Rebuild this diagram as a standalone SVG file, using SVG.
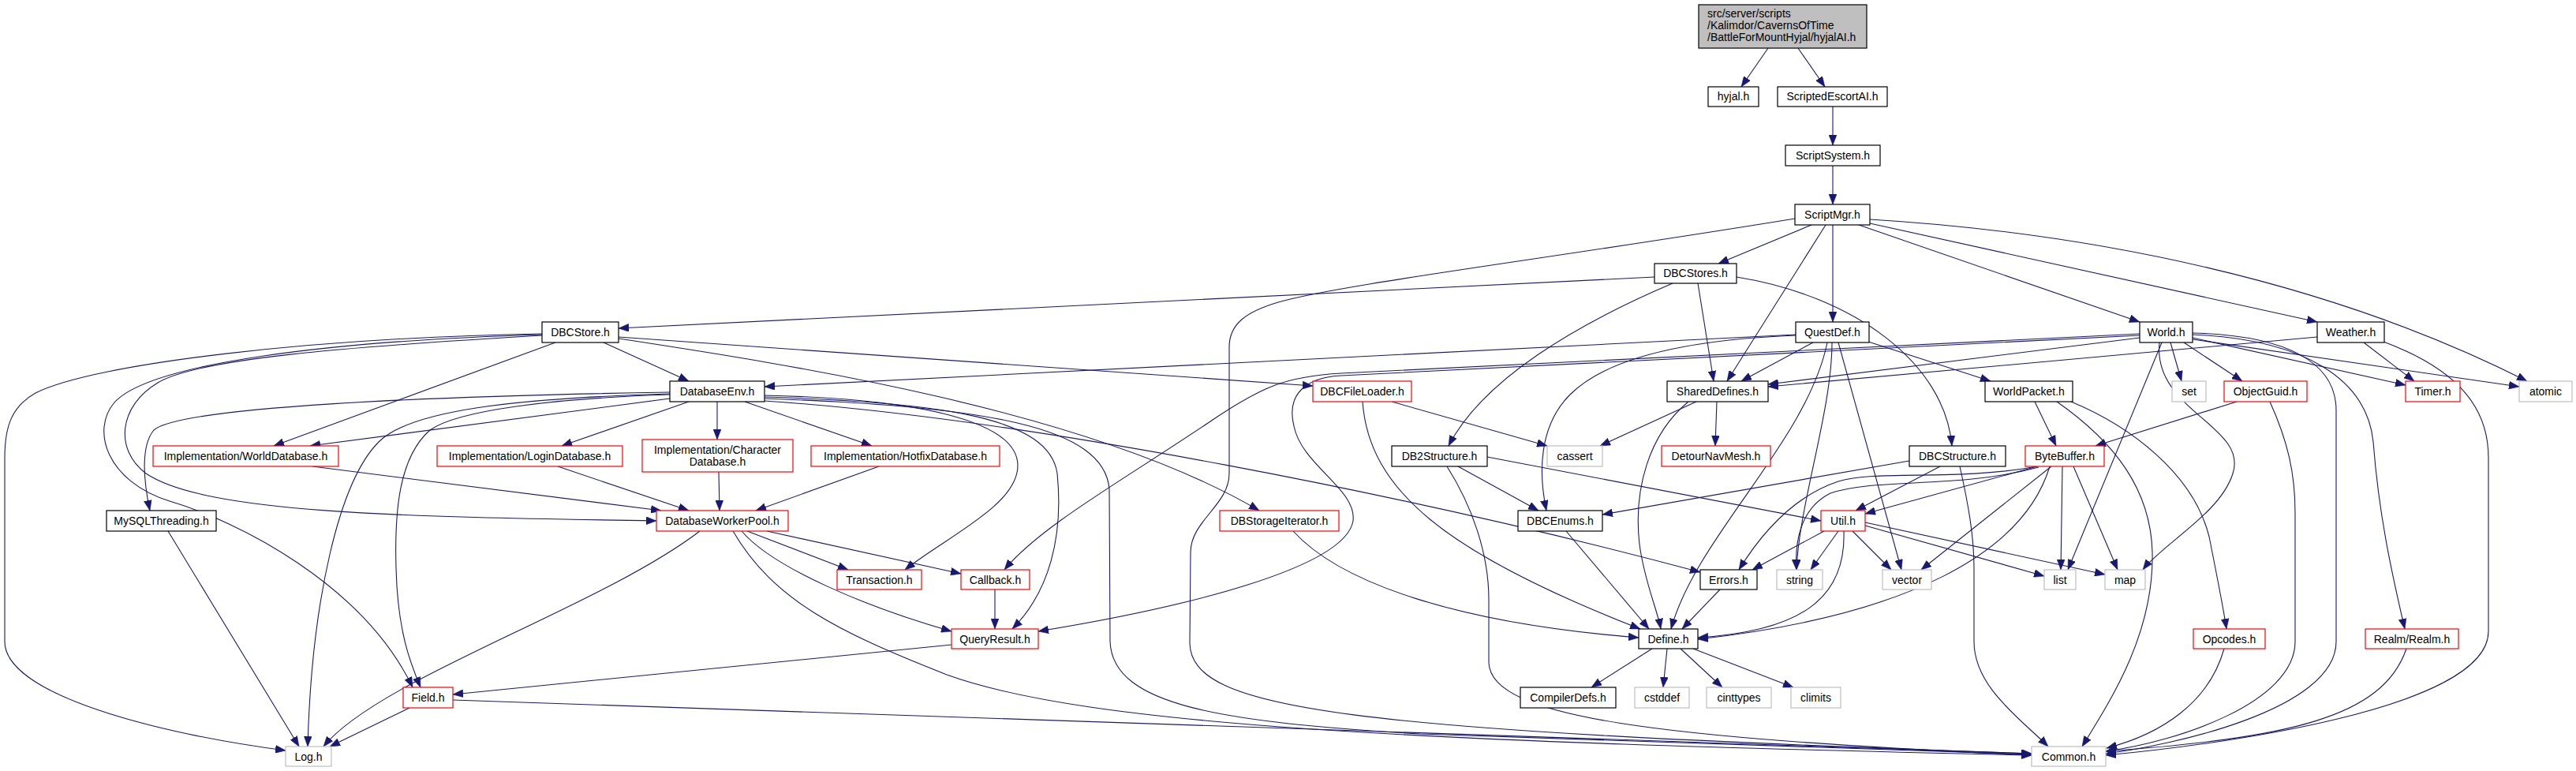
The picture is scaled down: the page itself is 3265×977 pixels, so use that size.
<svg xmlns="http://www.w3.org/2000/svg" width="3265" height="977" viewBox="0 0 3265 977">
<defs>
<marker id="a" viewBox="0 0 13 10" refX="13" refY="5" markerWidth="13" markerHeight="10" markerUnits="userSpaceOnUse" orient="auto"><path d="M0,0L13,5L0,10z" fill="#191970" stroke="#191970" stroke-width="0.5"/></marker>
</defs>
<style>
.node rect{fill:#ffffff;stroke:#000000;stroke-width:1.2}
.node.red rect{stroke:#ff0000}
.node.sys rect{stroke:#bfbfbf}
.node.root rect{fill:#bfbfbf}
.node text{font-family:"Liberation Sans",Arial,sans-serif;font-size:14px;text-anchor:middle;fill:#000000}
.node.root text{text-anchor:start}
#edges path{fill:none;stroke:#191970;stroke-width:1.1;marker-end:url(#a)}
</style>
<rect x="0" y="0" width="3265" height="977" fill="#ffffff"/>
<g id="edges">
<path d="M2241,61 L2207,110"/>
<path d="M2279,61 L2313,110"/>
<path d="M2323,135 L2323,184"/>
<path d="M2323,210 L2323,259"/>
<path d="M2296,285 L2178,334"/>
<path d="M2323,285 L2323,408"/>
<path d="M2314,285 L2189,483"/>
<path d="M2356,285 L2712,408"/>
<path d="M2370,283 L2937,408"/>
<path d="M2370,278 C2650,295 2950,355 3203,483"/>
<path d="M2275,277 C1950,330 1700,360 1620,383 C1580,395 1558,410 1558,440 L1558,600 C1558,640 1509,660 1509,700 L1508,815 C1510,900 1700,925 2575,955"/>
<path d="M2097,351 L784,416"/>
<path d="M2120,359 C2000,410 1880,480 1836,565"/>
<path d="M2152,359 L2172,483"/>
<path d="M2201,351 C2350,375 2465,460 2474,565"/>
<path d="M765,434 L873,483"/>
<path d="M704,434 L347,565"/>
<path d="M687,423 C400,428 120,460 45,498 C15,515 6,540 6,580 L6,813 C6,880 200,930 362,951"/>
<path d="M687,424 C420,432 190,460 145,510 C115,545 135,610 215,635 C300,660 460,740 523,871"/>
<path d="M687,425 C430,440 250,455 200,485 C150,515 145,570 185,600 C260,650 500,655 832,660"/>
<path d="M784,427 L1664,489"/>
<path d="M784,429 C1000,462 1380,520 1596,647"/>
<path d="M849,497 C550,502 230,515 195,545 C178,565 182,610 190,647"/>
<path d="M849,499 C650,505 520,520 480,560 C430,610 395,760 390,946"/>
<path d="M849,500 C700,505 580,520 545,545 C505,580 500,650 502,720 C504,800 520,840 533,871"/>
<path d="M849,505 L393,565"/>
<path d="M873,509 L712,565"/>
<path d="M909,509 L909,557"/>
<path d="M944,509 L1105,565"/>
<path d="M969,501 C1150,505 1290,530 1290,590 C1290,640 1200,680 1147,722"/>
<path d="M969,503 C1200,510 1330,530 1340,600 C1348,680 1330,750 1283,797"/>
<path d="M969,505 C1250,515 1400,540 1406,620 L1407,813 C1410,895 1550,915 1800,930 L2575,956"/>
<path d="M969,508 C1300,530 1800,630 2155,725"/>
<path d="M1764,509 L1961,565"/>
<path d="M1727,509 C1735,620 1830,700 2079,797"/>
<path d="M1639,673 C1700,740 1850,790 2077,808"/>
<path d="M1848,591 L1950,647"/>
<path d="M1885,579 L2308,660"/>
<path d="M1834,591 C1865,640 1887,700 1887,760 L1887,840 C1890,910 2100,935 2575,957"/>
<path d="M1985,673 L2090,797"/>
<path d="M2150,509 L2028,565"/>
<path d="M2176,509 L2174,565"/>
<path d="M2140,509 C2090,550 2070,620 2078,690 C2085,740 2100,770 2105,797"/>
<path d="M2298,434 L2207,483"/>
<path d="M2276,424 L969,490"/>
<path d="M2276,425 C2150,430 2040,450 1990,500 C1950,540 1950,600 1960,647"/>
<path d="M2368,433 L2523,483"/>
<path d="M2316,434 C2290,560 2150,680 2118,797"/>
<path d="M2322,434 C2322,520 2280,640 2277,722"/>
<path d="M2330,434 L2410,722"/>
<path d="M2712,428 L2241,487"/>
<path d="M2937,427 L2241,490"/>
<path d="M2712,423 L1700,473 C1630,477 1600,490 1540,530 C1430,605 1320,665 1273,722"/>
<path d="M2712,425 L1700,476 C1655,478 1630,500 1640,540 C1650,590 1720,620 1715,660 C1705,720 1500,770 1316,800"/>
<path d="M2751,434 L2765,483"/>
<path d="M2768,434 L2842,483"/>
<path d="M2779,428 L3049,488"/>
<path d="M2779,430 L3193,490"/>
<path d="M2779,422 C2900,425 2961,460 2961,520 L2961,813 C2961,900 2750,945 2669,955"/>
<path d="M2779,424 C2920,430 3000,480 3008,560 C3015,650 3030,720 3048,797"/>
<path d="M2740,434 L2621,722"/>
<path d="M2737,434 C2728,520 2850,540 2830,600 C2815,650 2740,690 2716,722"/>
<path d="M2996,434 L3060,483"/>
<path d="M3021,433 C3120,470 3154,520 3154,580 L3154,800 C3154,900 2800,945 2669,957"/>
<path d="M2835,509 L2656,565"/>
<path d="M2877,509 C2900,560 2909,600 2909,650 L2909,813 C2909,890 2760,940 2669,952"/>
<path d="M2579,509 L2606,565"/>
<path d="M2625,509 C2700,540 2780,600 2800,680 C2810,730 2818,770 2822,797"/>
<path d="M2607,509 C2680,560 2726,620 2728,700 C2730,800 2680,880 2639,946"/>
<path d="M2582,591 L2364,651"/>
<path d="M2582,591 C2480,610 2380,595 2330,610 C2270,630 2230,680 2204,722"/>
<path d="M2584,592 C2480,620 2380,605 2320,625 C2280,645 2275,690 2277,722"/>
<path d="M2600,591 L2435,722"/>
<path d="M2614,591 L2612,722"/>
<path d="M2628,591 L2684,722"/>
<path d="M2598,591 C2565,700 2420,780 2152,810"/>
<path d="M2312,673 L2221,722"/>
<path d="M2330,673 L2295,722"/>
<path d="M2348,673 L2397,722"/>
<path d="M2364,666 L2591,730"/>
<path d="M2364,662 L2668,728"/>
<path d="M2337,673 C2340,760 2280,800 2152,808"/>
<path d="M2420,584 L2031,652"/>
<path d="M2459,591 L2352,647"/>
<path d="M2484,591 C2495,640 2502,680 2502,720 L2502,813 C2502,870 2560,910 2596,946"/>
<path d="M2180,747 L2132,797"/>
<path d="M2094,822 L2017,871"/>
<path d="M2113,822 L2108,871"/>
<path d="M2130,822 L2183,871"/>
<path d="M2146,822 L2273,871"/>
<path d="M1261,747 L1261,797"/>
<path d="M1206,817 L574,880"/>
<path d="M574,887 L2575,955"/>
<path d="M519,897 L418,946"/>
<path d="M887,673 C760,770 480,860 410,946"/>
<path d="M947,673 L1075,722"/>
<path d="M972,673 L1218,727"/>
<path d="M940,673 C980,720 1100,770 1206,800"/>
<path d="M929,673 C980,760 1060,800 1200,855 C1380,920 1800,940 2575,957"/>
<path d="M396,591 L838,647"/>
<path d="M707,591 L873,647"/>
<path d="M911,598 L912,647"/>
<path d="M1114,591 L958,647"/>
<path d="M213,673 L379,946"/>
<path d="M2819,822 C2800,890 2740,930 2670,948"/>
<path d="M3050,822 C3020,910 2900,935 2669,952"/>
</g>
<g id="n_root" class="node root"><rect x="2153" y="6" width="213" height="55"/><text x="2164" y="21.5">src/server/scripts</text><text x="2164" y="36.5">/Kalimdor/CavernsOfTime</text><text x="2164" y="51.5">/BattleForMountHyjal/hyjalAI.h</text></g>
<g id="n_hyjal" class="node"><rect x="2165" y="110" width="64" height="25"/><text x="2197" y="127">hyjal.h</text></g>
<g id="n_escort" class="node"><rect x="2253" y="110" width="139" height="25"/><text x="2322.5" y="127">ScriptedEscortAI.h</text></g>
<g id="n_scriptsystem" class="node"><rect x="2263" y="184" width="120" height="26"/><text x="2323" y="201.5">ScriptSystem.h</text></g>
<g id="n_scriptmgr" class="node"><rect x="2275" y="259" width="95" height="26"/><text x="2322.5" y="276.5">ScriptMgr.h</text></g>
<g id="n_dbcstores" class="node"><rect x="2097" y="334" width="104" height="25"/><text x="2149" y="351">DBCStores.h</text></g>
<g id="n_dbcstore" class="node"><rect x="687" y="408" width="97" height="26"/><text x="735.5" y="425.5">DBCStore.h</text></g>
<g id="n_questdef" class="node"><rect x="2276" y="408" width="93" height="26"/><text x="2322.5" y="425.5">QuestDef.h</text></g>
<g id="n_world" class="node"><rect x="2712" y="408" width="67" height="26"/><text x="2745.5" y="425.5">World.h</text></g>
<g id="n_weather" class="node"><rect x="2937" y="408" width="85" height="26"/><text x="2979.5" y="425.5">Weather.h</text></g>
<g id="n_databaseenv" class="node"><rect x="849" y="483" width="120" height="26"/><text x="909" y="500.5">DatabaseEnv.h</text></g>
<g id="n_dbcfileloader" class="node red"><rect x="1664" y="483" width="125" height="26"/><text x="1726.5" y="500.5">DBCFileLoader.h</text></g>
<g id="n_shareddefines" class="node"><rect x="2113" y="483" width="128" height="26"/><text x="2177" y="500.5">SharedDefines.h</text></g>
<g id="n_worldpacket" class="node"><rect x="2516" y="483" width="111" height="26"/><text x="2571.5" y="500.5">WorldPacket.h</text></g>
<g id="n_set" class="node sys"><rect x="2753" y="483" width="43" height="26"/><text x="2774.5" y="500.5">set</text></g>
<g id="n_objectguid" class="node red"><rect x="2819" y="483" width="105" height="26"/><text x="2871.5" y="500.5">ObjectGuid.h</text></g>
<g id="n_timer" class="node red"><rect x="3049" y="483" width="69" height="26"/><text x="3083.5" y="500.5">Timer.h</text></g>
<g id="n_atomic" class="node sys"><rect x="3193" y="483" width="67" height="26"/><text x="3226.5" y="500.5">atomic</text></g>
<g id="n_worlddb" class="node red"><rect x="194" y="565" width="235" height="26"/><text x="311.5" y="582.5">Implementation/WorldDatabase.h</text></g>
<g id="n_logindb" class="node red"><rect x="554" y="565" width="235" height="26"/><text x="671.5" y="582.5">Implementation/LoginDatabase.h</text></g>
<g id="n_chardb" class="node red"><rect x="814" y="557" width="191" height="41"/><text x="909.5" y="575">Implementation/Character</text><text x="909.5" y="590">Database.h</text></g>
<g id="n_hotfixdb" class="node red"><rect x="1028" y="565" width="239" height="26"/><text x="1147.5" y="582.5">Implementation/HotfixDatabase.h</text></g>
<g id="n_db2structure" class="node"><rect x="1764" y="565" width="121" height="26"/><text x="1824.5" y="582.5">DB2Structure.h</text></g>
<g id="n_cassert" class="node sys"><rect x="1961" y="565" width="70" height="26"/><text x="1996" y="582.5">cassert</text></g>
<g id="n_detour" class="node red"><rect x="2106" y="565" width="138" height="26"/><text x="2175" y="582.5">DetourNavMesh.h</text></g>
<g id="n_dbcstructure" class="node"><rect x="2420" y="565" width="122" height="26"/><text x="2481" y="582.5">DBCStructure.h</text></g>
<g id="n_bytebuffer" class="node red"><rect x="2567" y="565" width="100" height="26"/><text x="2617" y="582.5">ByteBuffer.h</text></g>
<g id="n_mysqlthreading" class="node"><rect x="135" y="647" width="139" height="26"/><text x="204.5" y="664.5">MySQLThreading.h</text></g>
<g id="n_dbwp" class="node red"><rect x="832" y="647" width="167" height="26"/><text x="915.5" y="664.5">DatabaseWorkerPool.h</text></g>
<g id="n_dbstorageiter" class="node red"><rect x="1546" y="647" width="151" height="26"/><text x="1621.5" y="664.5">DBStorageIterator.h</text></g>
<g id="n_dbcenums" class="node"><rect x="1924" y="647" width="107" height="26"/><text x="1977.5" y="664.5">DBCEnums.h</text></g>
<g id="n_util" class="node red"><rect x="2308" y="647" width="56" height="26"/><text x="2336" y="664.5">Util.h</text></g>
<g id="n_transaction" class="node red"><rect x="1061" y="722" width="107" height="25"/><text x="1114.5" y="739.5">Transaction.h</text></g>
<g id="n_callback" class="node red"><rect x="1218" y="722" width="87" height="25"/><text x="1261.5" y="739.5">Callback.h</text></g>
<g id="n_errors" class="node"><rect x="2155" y="722" width="72" height="25"/><text x="2191" y="739.5">Errors.h</text></g>
<g id="n_string" class="node sys"><rect x="2252" y="722" width="58" height="25"/><text x="2281" y="739.5">string</text></g>
<g id="n_vector" class="node sys"><rect x="2386" y="722" width="62" height="25"/><text x="2417" y="739.5">vector</text></g>
<g id="n_list" class="node sys"><rect x="2591" y="722" width="40" height="25"/><text x="2611" y="739.5">list</text></g>
<g id="n_map" class="node sys"><rect x="2668" y="722" width="51" height="25"/><text x="2693.5" y="739.5">map</text></g>
<g id="n_queryresult" class="node red"><rect x="1206" y="797" width="110" height="25"/><text x="1261" y="814.5">QueryResult.h</text></g>
<g id="n_define" class="node"><rect x="2077" y="797" width="75" height="25"/><text x="2114.5" y="814.5">Define.h</text></g>
<g id="n_opcodes" class="node red"><rect x="2780" y="797" width="91" height="25"/><text x="2825.5" y="814.5">Opcodes.h</text></g>
<g id="n_realm" class="node red"><rect x="2998" y="797" width="118" height="25"/><text x="3057" y="814.5">Realm/Realm.h</text></g>
<g id="n_field" class="node red"><rect x="511" y="871" width="63" height="26"/><text x="542.5" y="888.5">Field.h</text></g>
<g id="n_compilerdefs" class="node"><rect x="1927" y="871" width="121" height="26"/><text x="1987.5" y="888.5">CompilerDefs.h</text></g>
<g id="n_cstddef" class="node sys"><rect x="2072" y="871" width="69" height="26"/><text x="2106.5" y="888.5">cstddef</text></g>
<g id="n_cinttypes" class="node sys"><rect x="2163" y="871" width="82" height="26"/><text x="2204" y="888.5">cinttypes</text></g>
<g id="n_climits" class="node sys"><rect x="2270" y="871" width="63" height="26"/><text x="2301.5" y="888.5">climits</text></g>
<g id="n_log" class="node sys"><rect x="362" y="946" width="58" height="25"/><text x="391" y="963.5">Log.h</text></g>
<g id="n_common" class="node sys"><rect x="2575" y="946" width="94" height="25"/><text x="2622" y="963.5">Common.h</text></g>
</svg>
